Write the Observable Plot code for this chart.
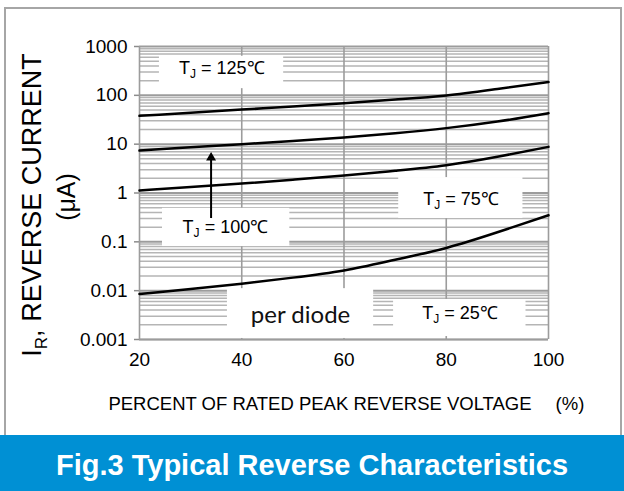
<!DOCTYPE html>
<html><head><meta charset="utf-8">
<script src="https://cdn.jsdelivr.net/npm/d3@7"></script>
<script src="https://cdn.jsdelivr.net/npm/@observablehq/plot@0.6"></script>
<style>
body{margin:0;background:#fff;}
#wrap{position:relative;width:624px;height:491px;overflow:hidden;font-family:"Liberation Sans",Arial,sans-serif;background:#fff;}
#frame{position:absolute;left:4px;top:7px;width:618px;height:428px;border:2px solid #a6a6a6;border-bottom:none;box-sizing:border-box;}
#chart{position:absolute;left:0;top:0;}
#title{position:absolute;left:0;top:435px;width:624px;height:56px;background:#0090d4;color:#fff;font-weight:bold;font-size:29px;text-align:center;line-height:60px;font-family:"Liberation Sans",Arial,sans-serif;}
</style></head><body>
<div id="wrap"><div id="frame"></div><div id="chart"></div><div id="title">Fig.3 Typical Reverse Characteristics</div></div>
<script>
// ---- data ----
const voltagePct = [20, 30, 40, 50, 60, 70, 80, 90, 100];
const ir125 = [38, 44, 51, 59, 69, 82, 99, 135, 187];
const ir100 = [7.4, 8.6, 10, 11.6, 13.7, 16.8, 21.3, 29, 43];
const ir75  = [1.13, 1.32, 1.56, 1.87, 2.27, 2.85, 3.7, 5.5, 8.8];
const ir25  = [0.0085, 0.0108, 0.0139, 0.0185, 0.026, 0.043, 0.075, 0.157, 0.35];
const seriesNames = ["125", "100", "75", "25"];

const xTicks = [20, 40, 60, 80, 100];
const xGrid = [40, 60, 80];
const yTicks = [0.001, 0.01, 0.1, 1, 10, 100, 1000];
const yTickLabels = ["0.001", "0.01", "0.1", "1", "10", "100", "1000"];

// annotations
const labelText = ["T_J = 125℃", "T_J = 100℃", "T_J = 75℃", "T_J = 25℃"];
const labelX = [36.1, 36.8, 82.9, 82.7];
const labelY = [355, 0.195, 0.73, 0.0034];
const boxX1 = [23.9, 24.5, 70.7, 69.7, 37.2];
const boxX2 = [48.2, 49.4, 95.0, 95.6, 65.8];
const boxY1 = [137, 0.08, 0.3, 0.00115, 0.00105];
const boxY2 = [631, 0.485, 2.07, 0.0066, 0.011];
const noteText = ["per diode"];
const noteX = [51.5];
const noteY = [0.0031];
const arrowX = [34];
const arrowFrom = [0.3];
const arrowTo = [5.3];

// ---- build tables ----
const allSeries = [ir125, ir100, ir75, ir25];
const lineData = [];
allSeries.forEach((s, i) => s.forEach((v, j) => lineData.push({x: voltagePct[j], y: v, s: seriesNames[i]})));
const minor = [];
for (let e = -3; e < 3; e++) for (let k = 2; k <= 9; k++) minor.push(k * Math.pow(10, e));
const boxes = boxX1.map((v, i) => ({x1: v, x2: boxX2[i], y1: boxY1[i], y2: boxY2[i]}));
const labels = labelText.map((t, i) => ({t, x: labelX[i], y: labelY[i]}));
const notes = noteText.map((t, i) => ({t, x: noteX[i], y: noteY[i]}));
const arrows = arrowX.map((x, i) => ({x, y1: arrowFrom[i], y2: arrowTo[i]}));

const plot = Plot.plot({
  width: 624, height: 435,
  marginLeft: 139, marginRight: 76, marginTop: 46, marginBottom: 96,
  style: {fontFamily: "'Liberation Sans', Arial, sans-serif", fontSize: "19px", color: "#000", background: "transparent", overflow: "visible"},
  x: {domain: [20, 100], ticks: xTicks, tickFormat: d => String(d), tickSize: 0, tickPadding: 13, label: null},
  y: {type: "log", domain: [0.001, 1000], ticks: yTicks, tickFormat: d => yTickLabels[yTicks.indexOf(d)], tickSize: 5, tickPadding: 7, label: null},
  marks: [
    Plot.ruleY(minor, {stroke: "#b5b5b5", strokeWidth: 1.5}),
    Plot.ruleY(yTicks, {stroke: "#9c9c9c", strokeWidth: 2}),
    Plot.ruleX(xGrid, {stroke: "#9c9c9c", strokeWidth: 1.6}),
    Plot.rect(boxes, {x1: "x1", x2: "x2", y1: "y1", y2: "y2", fill: "white"}),
    Plot.ruleX([20, 100], {stroke: "#9c9c9c", strokeWidth: 1.6}),
    Plot.ruleY([0.001], {stroke: "#9c9c9c", strokeWidth: 1.6}),
    Plot.line(lineData, {x: "x", y: "y", z: "s", stroke: "black", strokeWidth: 2.5, curve: "natural"}),
    Plot.ruleX(arrows, {x: "x", y1: "y1", y2: "y2", stroke: "black", strokeWidth: 2}),
    Plot.dot(arrows, {x: "x", y: "y2", symbol: "triangle", r: 3.7, fill: "black", stroke: "none"}),
    Plot.text(labels, {x: "x", y: "y", text: "t", fontSize: 18, fill: "black"}),
    Plot.text(notes, {x: "x", y: "y", text: "t", fontSize: 24, fontFamily: "Lato, 'Open Sans', sans-serif", fill: "#111"})
  ]
});
document.getElementById("chart").appendChild(plot);

const svg = d3.select(plot);
svg.selectAll("[aria-label='y-axis tick'] path").attr("stroke", "#8c8c8c").attr("stroke-width", 1.5);
svg.selectAll("[aria-label='y-axis tick'] line").attr("stroke", "#8c8c8c");

// subscripts in the legend texts
svg.selectAll("text").each(function () {
  const t = this.textContent;
  if (t.indexOf("_J") >= 0) {
    const rest = t.split("_J")[1];
    const el = d3.select(this);
    el.text(null);
    el.append("tspan").text("T");
    el.append("tspan").attr("font-size", 12).attr("dy", 4).text("J");
    el.append("tspan").attr("dy", -4).text(rest);
  }
});

// axis titles
const yt = svg.append("text").attr("transform", "translate(31,205) rotate(-90)")
  .attr("text-anchor", "middle").attr("dy", "0.36em")
  .attr("font-size", 27).attr("fill", "#000");
yt.append("tspan").text("I");
yt.append("tspan").attr("font-size", 17).attr("dy", 6).text("R");
yt.append("tspan").attr("dy", -6).text(", REVERSE CURRENT");
svg.append("text").attr("transform", "translate(66,197) rotate(-90)")
  .attr("text-anchor", "middle").attr("dy", "0.36em")
  .attr("font-size", 25).attr("fill", "#000").text("(μA)");
svg.append("text").attr("x", 320).attr("y", 410).attr("text-anchor", "middle")
  .attr("font-size", 18.5).attr("fill", "#000").text("PERCENT OF RATED PEAK REVERSE VOLTAGE");
svg.append("text").attr("x", 570).attr("y", 410).attr("text-anchor", "middle")
  .attr("font-size", 18.5).attr("fill", "#000").text("(%)");
</script>
</body></html>
